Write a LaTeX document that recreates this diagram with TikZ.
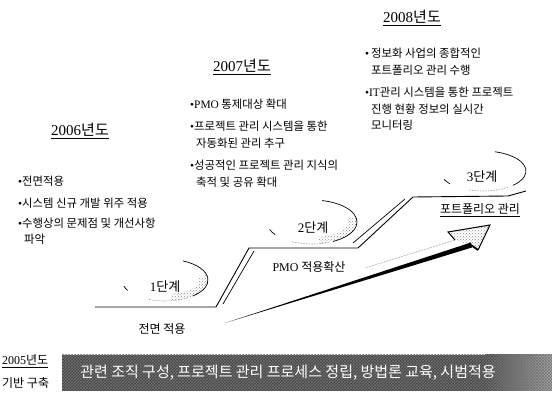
\documentclass[tikz,border=0pt]{standalone}
\usepackage{fontspec}
\setmainfont{Noto Sans CJK KR}
\newfontfamily\lat{Liberation Serif}
\usetikzlibrary{patterns}
\begin{document}
\begin{tikzpicture}[x=1pt,y=-1pt,
  head/.style={inner sep=0pt,font=\fontsize{15}{18}\selectfont},
  item/.style={anchor=west,inner sep=0pt,font=\fontsize{11.4}{13}\selectfont},
  stagelbl/.style={inner sep=0pt,font=\fontsize{13}{15}\selectfont},
  lvl/.style={inner sep=0pt,font=\fontsize{12}{14}\selectfont},
  stair/.style={line width=0.9pt,line join=round},
  arcline/.style={line width=0.7pt},
  dotarc/.style={densely dotted,line width=0.6pt,black!55},
  stip/.style={pattern=crosshatch dots,pattern color=black!45}]
\useasboundingbox (0,0) rectangle (552,403);

% ---------- headings ----------
\node[head] (h2008) at (412,18) {\underline{{\lat 2008}년도}};
\node[head] (h2007) at (242,67) {\underline{{\lat 2007}년도}};
\node[head] (h2006) at (80,131) {\underline{{\lat 2006}년도}};

% ---------- 2008 items ----------
\node[item] (a1) at (365,53) {{\lat\textbullet}\,정보화 사업의 종합적인};
\node[item] (a2) at (371,70) {포트폴리오 관리 수행};
\node[item] (a3) at (365,92) {{\lat\textbullet IT}관리 시스템을 통한 프로젝트};
\node[item] (a4) at (371,109) {진행 현황 정보의 실시간};
\node[item] (a5) at (371,125) {모니터링};

% ---------- 2007 items ----------
\node[item] (b1) at (190,104) {{\lat\textbullet PMO} 통제대상 확대};
\node[item] (b2) at (190,126) {{\lat\textbullet}프로젝트 관리 시스템을 통한};
\node[item] (b3) at (196,143) {자동화된 관리 추구};
\node[item] (b4) at (190,165) {{\lat\textbullet}성공적인 프로젝트 관리 지식의};
\node[item] (b5) at (196,182) {축적 및 공유 확대};

% ---------- 2006 items ----------
\node[item] (c1) at (18,181) {{\lat\textbullet}전면적용};
\node[item] (c2) at (18,203) {{\lat\textbullet}시스템 신규 개발 위주 적용};
\node[item] (c3) at (18,223) {{\lat\textbullet}수행상의 문제점 및 개선사항};
\node[item] (c4) at (24,239) {파악};

% ---------- staircase ----------
\coordinate (p0) at (95,307);
\coordinate (p1) at (216,307);
\coordinate (p2) at (249,248);
\coordinate (p3) at (358,248);
\coordinate (p4) at (413,197);
\coordinate (p5) at (508,196);
\coordinate (p6) at (526,191);
\draw[stair] (p0) -- (p1) -- (p2) -- (p3) -- (p4) -- (p5) -- (p6);
\coordinate (q1) at (223,304);
\coordinate (q2) at (254,251);
\coordinate (q3) at (353,243);
\coordinate (q4) at (405,199);
\draw[line width=0.7pt] (q1) -- (q2);
\draw[line width=0.7pt] (q3) -- (q4);

% ---------- stage labels ----------
\node[stagelbl] (st1) at (165,287) {{\lat 1}단계};
\node[stagelbl] (st2) at (313,228) {{\lat 2}단계};
\node[stagelbl] (st3) at (482,177) {{\lat 3}단계};

% stage 1 ellipse pieces, centre (165,280)
\fill[stip] ([shift={(-15:43 and 21)}]165,280) arc[start angle=-15,end angle=80,x radius=43,y radius=21]
   -- ([shift={(80:34 and 13)}]165,281) arc[start angle=80,end angle=-15,x radius=34,y radius=13] -- cycle;
\draw[arcline] ([shift={(-65:43 and 21)}]165,280) arc[start angle=-65,end angle=50,x radius=43,y radius=21];
\draw[dotarc] ([shift={(58:43 and 21)}]165,280) arc[start angle=58,end angle=112,x radius=43,y radius=21];
\draw[arcline] ([shift={(150:43 and 21)}]165,280) arc[start angle=150,end angle=163,x radius=43,y radius=21];

% stage 2 ellipse pieces, centre (312,222)
\fill[stip] ([shift={(-15:45 and 22)}]312,222) arc[start angle=-15,end angle=80,x radius=45,y radius=22]
   -- ([shift={(80:36 and 14)}]312,223) arc[start angle=80,end angle=-15,x radius=36,y radius=14] -- cycle;
\draw[arcline] ([shift={(-77:45 and 22)}]312,222) arc[start angle=-77,end angle=62,x radius=45,y radius=22];
\draw[dotarc] ([shift={(70:45 and 22)}]312,222) arc[start angle=70,end angle=118,x radius=45,y radius=22];
\draw[arcline] ([shift={(145:45 and 22)}]312,222) arc[start angle=145,end angle=160,x radius=45,y radius=22];

% stage 3 ellipse pieces, centre (483,171)
\draw[arcline] ([shift={(-74:43 and 20)}]483,171) arc[start angle=-74,end angle=46,x radius=43,y radius=20];
\draw[dotarc] ([shift={(55:43 and 20)}]483,171) arc[start angle=55,end angle=110,x radius=43,y radius=20];
\draw[arcline] ([shift={(140:43 and 20)}]483,171) arc[start angle=140,end angle=155,x radius=43,y radius=20];

% ---------- level labels ----------
\node[lvl] (lv1) at (162,329) {전면 적용};
\node[lvl] (lv2) at (309,267) {{\lat PMO} 적용확산};
\node[lvl] (lv3) at (480,210) {\underline{포트폴리오 관리}};

% ---------- big arrow ----------
\coordinate (tail) at (225,323);
\coordinate (hb1) at (448,232);
\coordinate (tip) at (490,225);
\coordinate (hb2) at (478,250);
\coordinate (hin) at (471,245);
\coordinate (hup) at (455,240);
\fill[white] (hup) -- (hb1) -- (tip) -- (hb2) -- (hin) -- cycle;
\fill[stip] (hup) -- (hb1) -- (tip) -- (hb2) -- (hin) -- cycle;
\draw[line width=1pt,line join=miter] (hup) -- (hb1) -- (tip) -- (hb2);
\draw[line width=1.8pt] (hb2) -- (hin);
\fill (tail) -- (471,242.5) -- (472,247.5) -- cycle;
\draw[densely dotted,black!55,line width=0.6pt] (hup) -- (365,268);

% ---------- 2005 ----------
\node[lvl,anchor=west] (h2005) at (2,361) {\underline{{\lat 2005}년도}};
\node[lvl,anchor=west] (base) at (2,383) {기반 구축};
\fill[black!74] (62,355) rectangle (552,391);
\shade[left color=black!74,right color=black!32] (485,355) rectangle (552,391);
\fill[pattern=crosshatch,pattern color=black!55] (62,355) rectangle (552,391);
\node[inner sep=0pt,text=white,font=\fontsize{15}{17}\selectfont] (band) at (288,373)
  {관련 조직 구성, 프로젝트 관리 프로세스 정립, 방법론 교육, 시범적용};
\end{tikzpicture}
\end{document}
